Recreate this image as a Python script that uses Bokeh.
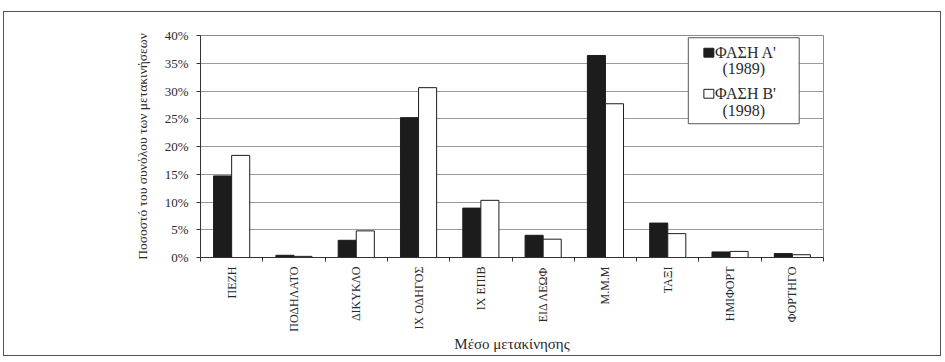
from bokeh.plotting import figure
from bokeh.models import Range1d, FixedTicker, NumeralTickFormatter, BoxAnnotation, Label
from bokeh.embed import file_html
from bokeh.resources import INLINE
import numpy as np

# Transport mode categories (x axis)
modes = ["ΠΕΖΗ", "ΠΟΔΗΛΑΤΟ", "ΔΙΚΥΚΛΟ", "ΙΧ ΟΔΗΓΟΣ", "ΙΧ ΕΠΙΒ",
         "ΕΙΔ ΛΕΩΦ", "Μ.Μ.Μ", "ΤΑΞΙ", "ΗΜΙΦΟΡΤ", "ΦΟΡΤΗΓΟ"]

# Share of all trips (%) per survey phase
phase_a_1989 = [14.7, 0.4, 3.1, 25.2, 8.9, 4.0, 36.4, 6.2, 1.0, 0.7]
phase_b_1998 = [18.4, 0.2, 4.8, 30.6, 10.3, 3.3, 27.7, 4.3, 1.1, 0.5]

series_labels = ["ΦΑΣΗ Α'", "ΦΑΣΗ Β'"]
series_years = ["(1989)", "(1998)"]
y_ticks = [0.0, 0.05, 0.10, 0.15, 0.20, 0.25, 0.30, 0.35, 0.40]

FONT = "Liberation Serif"
TXT = "#2a2a2a"

n = len(modes)
centers = np.arange(n) + 0.5
bar_w = 0.29

# chart sits inside a thin outer border, offset from the page edge
p = figure(width=938, height=345, output_backend="svg", toolbar_location=None,
           x_range=Range1d(0, n), y_range=Range1d(0, 0.40),
           min_border_left=196, min_border_right=119,
           min_border_top=23, min_border_bottom=100,
           background_fill_color="white", border_fill_color="white")
p.margin = (11, 0, 0, 3)
p.styles = {"border": "1px solid #555555"}

p.outline_line_color = "#8a8a8a"
p.outline_line_width = 1

a = np.array(phase_a_1989) / 100.0
b = np.array(phase_b_1998) / 100.0
p.vbar(x=centers - bar_w / 2, top=a, width=bar_w, bottom=0,
       fill_color="#1c1c1c", line_color="#1c1c1c", line_width=1)
p.vbar(x=centers + bar_w / 2, top=b, width=bar_w, bottom=0,
       fill_color="white", line_color="#1c1c1c", line_width=1)

# grid
p.xgrid.visible = False
p.ygrid.ticker = FixedTicker(ticks=y_ticks)
p.ygrid.grid_line_color = "#9a9a9a"
p.ygrid.grid_line_width = 1

# x axis: labels at category centres, tick marks at category boundaries
xa = p.xaxis[0]
xa.ticker = FixedTicker(ticks=list(centers), minor_ticks=list(range(n + 1)))
xa.major_label_overrides = {float(c): m for c, m in zip(centers, modes)}
xa.major_label_orientation = np.pi / 2
xa.major_tick_line_color = None
xa.major_tick_out = 4
xa.minor_tick_out = 4
xa.minor_tick_in = 0
xa.minor_tick_line_color = "#333333"
xa.axis_line_color = "#333333"
xa.major_label_text_font = FONT
xa.major_label_text_font_size = "12px"
xa.major_label_text_color = TXT
xa.major_label_standoff = 5
xa.axis_label = "Μέσο μετακίνησης"
xa.axis_label_text_font = FONT
xa.axis_label_text_font_style = "normal"
xa.axis_label_text_font_size = "15px"
xa.axis_label_text_color = TXT
xa.axis_label_standoff = 1

# y axis
ya = p.yaxis[0]
ya.ticker = FixedTicker(ticks=y_ticks)
ya.formatter = NumeralTickFormatter(format="0%")
ya.major_tick_out = 4
ya.major_tick_in = 0
ya.minor_tick_line_color = None
ya.major_tick_line_color = "#333333"
ya.axis_line_color = "#333333"
ya.major_label_text_font = FONT
ya.major_label_text_font_size = "13px"
ya.major_label_text_color = TXT
ya.major_label_standoff = 8
ya.axis_label = "Ποσοστό του συνόλου των μετακινήσεων"
ya.axis_label_text_font = FONT
ya.axis_label_text_font_style = "normal"
ya.axis_label_text_font_size = "13.5px"
ya.axis_label_text_color = TXT
ya.axis_label_standoff = 12

# legend box
p.add_layout(BoxAnnotation(left=7.83, right=9.61, bottom=0.241, top=0.396,
                           fill_color="white", fill_alpha=1.0,
                           line_color="#555555", line_width=1, line_alpha=1.0))
swatch_fill = ["#1c1c1c", "white"]
entry_y = [0.369, 0.295]
year_y = [0.340, 0.264]
for fill, ey, yy, lab, yr in zip(swatch_fill, entry_y, year_y, series_labels, series_years):
    p.add_layout(BoxAnnotation(left=8.08, right=8.24, bottom=ey - 0.008, top=ey + 0.008,
                               fill_color=fill, fill_alpha=1.0,
                               line_color="#1c1c1c", line_width=1, line_alpha=1.0))
    p.add_layout(Label(x=8.26, y=ey, text=lab, text_align="left", text_baseline="middle",
                       text_font=FONT, text_font_size="16px", text_color=TXT))
    p.add_layout(Label(x=8.72, y=yy, text=yr, text_align="center", text_baseline="middle",
                       text_font=FONT, text_font_size="16px", text_color=TXT))

open("out.html", "w").write(file_html(p, INLINE))
